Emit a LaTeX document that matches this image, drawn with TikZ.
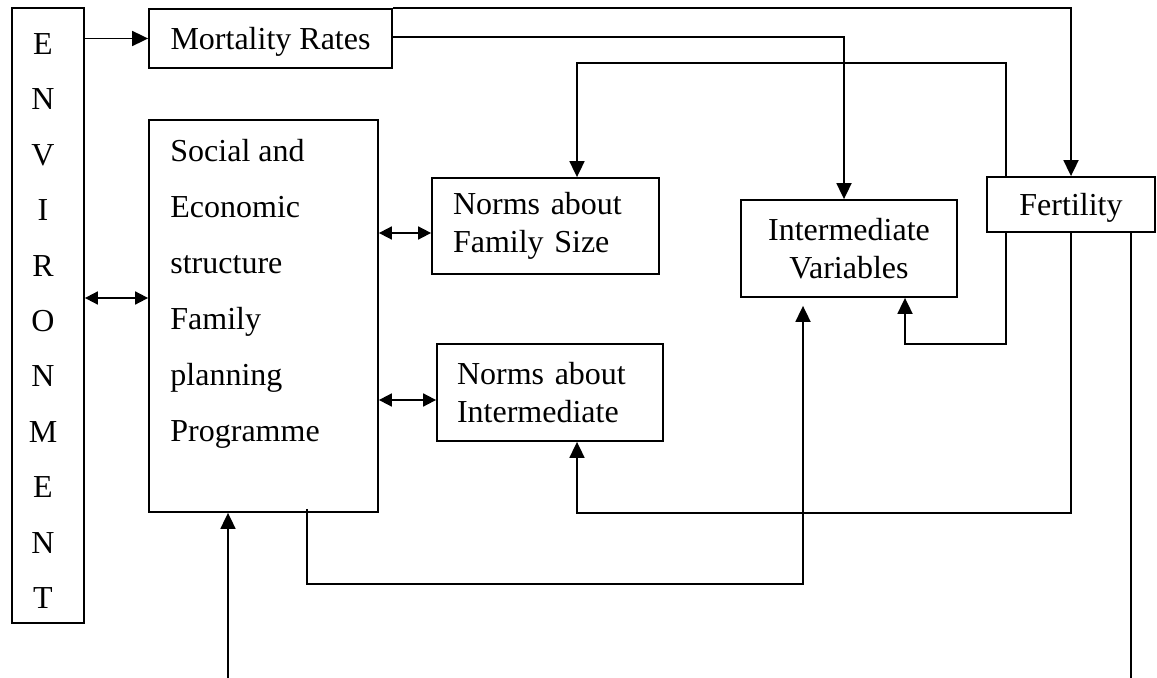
\documentclass[tikz,border=0pt]{standalone}
\usepackage{fontspec}
\setmainfont{Liberation Serif}
\usetikzlibrary{arrows.meta,calc}

\begin{document}
\begin{tikzpicture}[x=0.5pt,y=-0.5pt,
    box/.style={draw,line width=0.9pt,inner sep=0pt,font=\fontsize{16}{19}\selectfont},
    oneline/.style={text height=11.5pt,text depth=0pt},
    wire/.style={line width=0.9pt},
    arr/.style={wire,-{Triangle[length=8pt,width=7.5pt]}},
    darr/.style={wire,{Triangle[length=6.5pt,width=6.5pt]}-{Triangle[length=6.5pt,width=6.5pt]}}]
    \useasboundingbox (0,0) rectangle (1157,678);
    % boxes
    \node[box,minimum width=36pt,minimum height=307.5pt] (env) at (48,315.5) {};
    \node[align=center,inner sep=0pt,font=\fontsize{16}{27.7}\selectfont] (envtxt) at (43,321)
        {E\\N\\V\\I\\R\\O\\N\\M\\E\\N\\T};
    \node[box,oneline,minimum width=121.5pt,minimum height=29.5pt] (mort) at (270.5,38.5) {Mortality Rates};
    \node[box,minimum width=114.5pt,minimum height=196pt] (soc) at (263.5,316) {};
    \node[anchor=north west,align=left,inner sep=0pt,font=\fontsize{16}{28}\selectfont] (soctxt) at (170,139)
        {Social and\\Economic\\structure\\Family\\planning\\Programme};
    \node[box,minimum height=48pt,inner xsep=10.5pt,text width=92.5pt,align=left] (nfs) at (545.5,226)
        {Norms about\\Family Size};
    \node[box,minimum width=108pt,minimum height=48.5pt,align=center] (iv) at (849,248.5)
        {Intermediate\\Variables};
    \node[box,oneline,minimum width=84pt,minimum height=27.5pt] (fert) at (1071,204.5) {Fertility};
    \node[box,minimum height=48.5pt,inner xsep=10pt,text width=93pt,align=left] (ni) at (550,392.5)
        {Norms about\\Intermediate};
    % free ends and joints
    \coordinate (inflow) at (228,678);
    \coordinate (outflow) at (1131,678);
    \coordinate (j1) at ($(soc.west)+(0,-18)$);
    \coordinate (j2) at ($(nfs.west)+(0,7)$);
    \coordinate (j3) at ($(ni.west)+(0,7.5)$);
    % connectors
    \draw[arr] (env.east |- mort.west) -- (mort.west);
    \draw[arr] (mort.north east) -| (fert.north);
    \draw[arr] ($(mort.east)+(0,-1.5)$) -| ($(iv.north)+(-5,0)$);
    \draw[arr] ($(fert.north west)+(20,0)$) -- ++(0,-113) -| ($(nfs.north)+(31.5,0)$);
    \draw[arr] ($(fert.south west)+(20,0)$) -- ++(0,111) -| ($(iv.south)+(56,0)$);
    \draw[arr] (fert.south) -- ++(0,280) -| ($(ni.south)+(27,0)$);
    \draw[wire] (outflow |- fert.south) -- (outflow);
    \draw[arr] (inflow) -- (inflow |- soc.south);
    \draw[arr] ($(soc.south west)+(159,-4)$) -- ++(0,75) -| ($(iv.south)+(-46,8)$);
    \draw[darr] (env.east |- j1) -- (j1);
    \draw[darr] (soc.east |- j2) -- (j2);
    \draw[darr] (soc.east |- j3) -- (j3);
\end{tikzpicture}
\end{document}
